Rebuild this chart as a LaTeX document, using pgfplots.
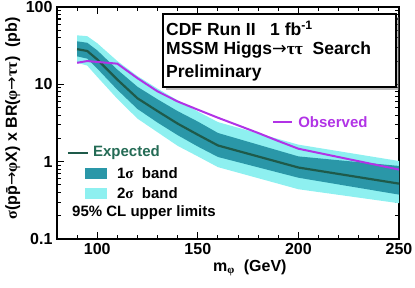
\documentclass[border=0pt]{standalone}
\usepackage{pgfplots}
\pgfplotsset{compat=1.18}
\usepackage{pgfplotstable}
\usepgfplotslibrary{fillbetween}
\usetikzlibrary{shadows}
\usepackage{fontspec}
\setmainfont{Liberation Sans}
\newfontfamily\gr{Liberation Serif}
\newfontfamily\arr{DejaVu Sans}

\definecolor{twosig}{HTML}{8EF0F0}
\definecolor{onesig}{HTML}{2A97A8}
\definecolor{expc}{HTML}{1E5A4A}
\definecolor{expt}{HTML}{246B55}
\definecolor{obsc}{HTML}{B133E6}

\pgfplotstableread{
m exp lo1 hi1 lo2 hi2
90 28.5 23 36 19 43
95 27 21.5 34.5 17.5 42
100 21 16 27.5 12.5 34
110 11.5 8.5 15.5 6.5 20
120 6.6 4.8 9.3 3.6 12.8
130 4.5 3.2 6.4 2.4 8.8
140 3.1 2.2 4.5 1.6 6.2
150 2.23 1.57 3.3 1.17 4.45
160 1.62 1.15 2.35 0.85 3.25
200 0.84 0.62 1.17 0.44 1.66
250 0.52 0.375 0.88 0.29 1.02
}\expdata

\pgfplotstableread{
m obs
90 19
95 20
110 18.5
120 12
130 8.1
140 6.0
150 4.7
160 3.7
170 2.95
180 2.35
190 1.85
200 1.47
250 0.79
}\obsdata

\begin{document}
\begin{tikzpicture}
\begin{axis}[
  name=ax,
  scale only axis,
  width=342pt, height=232pt,
  xmin=80, xmax=250,
  ymode=log, ymin=0.1, ymax=100,
  axis line style={line width=1.6pt},
  tick align=inside,
  major tick length=7pt, minor tick length=4pt,
  every tick/.style={line width=1.1pt, black},
  xtick={100,150,200,250},
  xticklabels={100,150,200,250},
  minor xtick={90,110,120,130,140,160,170,180,190,210,220,230,240},
  ytick={0.1,1,10,100},
  yticklabels={0.1,1,10,100},
  tick label style={font=\fontsize{16}{16}\selectfont\bfseries},
  xticklabel style={yshift=-1pt},
  yticklabel style={xshift=-1pt},
  xlabel={m\textsubscript{\gr φ}\ \ (GeV)},
  xlabel style={at={(rel axis cs:0.564,-0.125)}, anchor=center, font=\fontsize{16}{16}\selectfont\bfseries},
  ylabel={{\gr σ}(p\={p}{\arr\mdseries →}{\gr φ}X) x BR({\gr φ}{\arr\mdseries →}{\gr ττ})\ \ (pb)},
  ylabel style={at={(rel axis cs:-0.129,0.52)}, anchor=center, font=\fontsize{16}{16}\selectfont\bfseries},
]
\addplot[name path=h2, draw=none] table[x=m,y=hi2]{\expdata};
\addplot[name path=l2, draw=none] table[x=m,y=lo2]{\expdata};
\addplot[name path=h1, draw=none] table[x=m,y=hi1]{\expdata};
\addplot[name path=l1, draw=none] table[x=m,y=lo1]{\expdata};
\addplot[twosig] fill between[of=h2 and l2];
\addplot[onesig] fill between[of=h1 and l1];
\addplot[expc, line width=2.2pt] table[x=m,y=exp]{\expdata};
\addplot[obsc, line width=2pt] table[x=m,y=obs]{\obsdata};
% legend
\draw[expc, line width=2.2pt] (rel axis cs:0.032,0.371) -- (rel axis cs:0.091,0.371);
\node[anchor=west, text=expt, font=\fontsize{15}{15}\selectfont\bfseries, inner sep=0pt] at (rel axis cs:0.105,0.371) {Expected};
\fill[onesig] (rel axis cs:0.082,0.259) rectangle (rel axis cs:0.146,0.306);
\node[anchor=west, font=\fontsize{15}{15}\selectfont\bfseries, inner sep=0pt] at (rel axis cs:0.175,0.282) {1{\gr σ}\ \ band};
\fill[twosig] (rel axis cs:0.082,0.172) rectangle (rel axis cs:0.146,0.220);
\node[anchor=west, font=\fontsize{15}{15}\selectfont\bfseries, inner sep=0pt] at (rel axis cs:0.175,0.196) {2{\gr σ}\ \ band};
\node[anchor=west, font=\fontsize{15}{15}\selectfont\bfseries, inner sep=0pt] at (rel axis cs:0.044,0.112) {95\% CL upper limits};
\draw[obsc, line width=2pt] (rel axis cs:0.632,0.504) -- (rel axis cs:0.688,0.504);
\node[anchor=west, text=obsc, font=\fontsize{15}{15}\selectfont\bfseries, inner sep=0pt] at (rel axis cs:0.705,0.504) {Observed};
% title box
\node[anchor=north west, draw=black, line width=1.6pt, fill=white, inner sep=0pt,
  minimum width=233pt, minimum height=73pt,
  drop shadow={shadow xshift=3pt, shadow yshift=-3pt, opacity=0.5}]
  (tb) at (rel axis cs:0.307,0.974) {};
\node[anchor=west, inner sep=0pt, font=\fontsize{17.5}{17.5}\selectfont\bfseries] at ([xshift=4pt,yshift=-15pt]tb.north west) {CDF Run II\ \ \ 1 fb\textsuperscript{-1}};
\node[anchor=west, inner sep=0pt, font=\fontsize{17.5}{17.5}\selectfont\bfseries] at ([xshift=4pt,yshift=-37pt]tb.north west) {MSSM Higgs{\arr\mdseries →}{\gr ττ}\ \ Search};
\node[anchor=west, inner sep=0pt, font=\fontsize{17.5}{17.5}\selectfont\bfseries] at ([xshift=4pt,yshift=-60pt]tb.north west) {Preliminary};
\end{axis}
\pgfresetboundingbox
\path[use as bounding box] ([shift={(-57pt,-48pt)}]ax.south west) rectangle ([shift={(16pt,7pt)}]ax.north east);
\end{tikzpicture}
\end{document}
